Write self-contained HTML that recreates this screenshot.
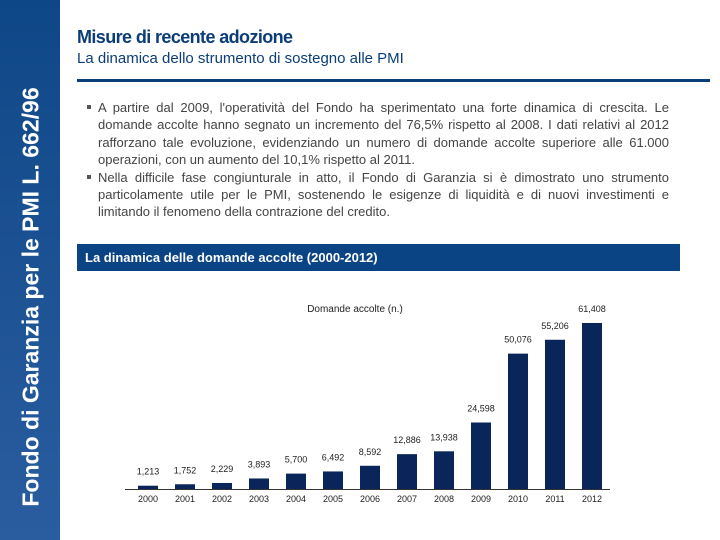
<!DOCTYPE html>
<html><head><meta charset="utf-8"><style>
body{margin:0;width:720px;height:540px;background:#fff;position:relative;overflow:hidden;font-family:"Liberation Sans",sans-serif}
#side{position:absolute;left:0;top:0;width:60px;height:540px;background:linear-gradient(#0e4787,#2a5da0)}
#sidetxt{position:absolute;left:31px;top:297px;transform:translate(-50%,-50%) rotate(-90deg);white-space:nowrap;color:#fff;font-weight:bold;font-size:23px}
#t1{position:absolute;left:77px;top:27px;font-size:18px;color:#0b3d78;font-weight:bold;letter-spacing:-0.6px}
#t2{position:absolute;left:77px;top:50px;font-size:15px;color:#0b3d78}
#rule{position:absolute;left:77px;top:79px;width:633px;height:3px;background:#0b3d78}
#txt{position:absolute;left:86px;top:99px;width:583px;font-size:13px;line-height:17.4px;color:#444;text-align:justify}
#txt p{margin:0 0 0 12px;position:relative}
#txt p:before{content:"";position:absolute;left:-11px;top:6px;width:4px;height:4px;background:#555}
#box{position:absolute;left:77px;top:244px;width:603px;height:27px;background:#0b4485;color:#fff;font-weight:bold;font-size:13px;line-height:27px;padding-left:8px;box-sizing:border-box}
</style></head><body>
<div id="side"><div id="sidetxt">Fondo di Garanzia per le PMI L. 662/96</div></div>
<div id="t1">Misure di recente adozione</div>
<div id="t2">La dinamica dello strumento di sostegno alle PMI</div>
<div id="rule"></div>
<div id="txt">
<p>A partire dal 2009, l'operatività del Fondo ha sperimentato una forte dinamica di crescita. Le domande accolte hanno segnato un incremento del 76,5% rispetto al 2008. I dati relativi al 2012 rafforzano tale evoluzione, evidenziando un numero di domande accolte superiore alle 61.000 operazioni, con un aumento del 10,1% rispetto al 2011.</p>
<p>Nella difficile fase congiunturale in atto, il Fondo di Garanzia si è dimostrato uno strumento particolamente utile per le PMI, sostenendo le esigenze di liquidità e di nuovi investimenti e limitando il fenomeno della contrazione del credito.</p>
</div>
<div id="box">La dinamica delle domande accolte (2000-2012)</div>
<svg id="chart" width="720" height="540" style="position:absolute;left:0;top:0">
<text x="355" y="312" font-size="10" text-anchor="middle" fill="#222" font-family="Liberation Sans">Domande accolte (n.)</text>
</svg>
<script>
const years=["2000","2001","2002","2003","2004","2005","2006","2007","2008","2009","2010","2011","2012"];
const values=[1213,1752,2229,3893,5700,6492,8592,12886,13938,24598,50076,55206,61408];
const labels=["1,213","1,752","2,229","3,893","5,700","6,492","8,592","12,886","13,938","24,598","50,076","55,206","61,408"];
const svg=document.getElementById('chart');
const NS="http://www.w3.org/2000/svg";
const base=489,top0=323,maxV=61408;
const y=v=>base-(v/maxV)*(base-top0);
const x=i=>148+i*37;
const ax=document.createElementNS(NS,'line');


ax.setAttribute('x1',125);ax.setAttribute('x2',610);ax.setAttribute('y1',base+0.5);ax.setAttribute('y2',base+0.5);ax.setAttribute('stroke','#333');
svg.appendChild(ax);
values.forEach((v,i)=>{
 const r=document.createElementNS(NS,'rect');
 
 
 r.setAttribute('x',x(i)-10);r.setAttribute('width',20);r.setAttribute('y',y(v));r.setAttribute('height',base-y(v));r.setAttribute('fill','#0a2559');
 svg.appendChild(r);
 const t=document.createElementNS(NS,'text');
 
 
 t.setAttribute('x',x(i));t.setAttribute('y',y(v)-11);t.setAttribute('text-anchor','middle');t.setAttribute('font-size','9');t.setAttribute('fill','#222');
 t.textContent=labels[i];svg.appendChild(t);
 const yl=document.createElementNS(NS,'text');
 
 
 yl.setAttribute('x',x(i));yl.setAttribute('y',502);yl.setAttribute('text-anchor','middle');yl.setAttribute('font-size','9');yl.setAttribute('fill','#222');
 yl.textContent=years[i];svg.appendChild(yl);
});
</script>
</body></html>
